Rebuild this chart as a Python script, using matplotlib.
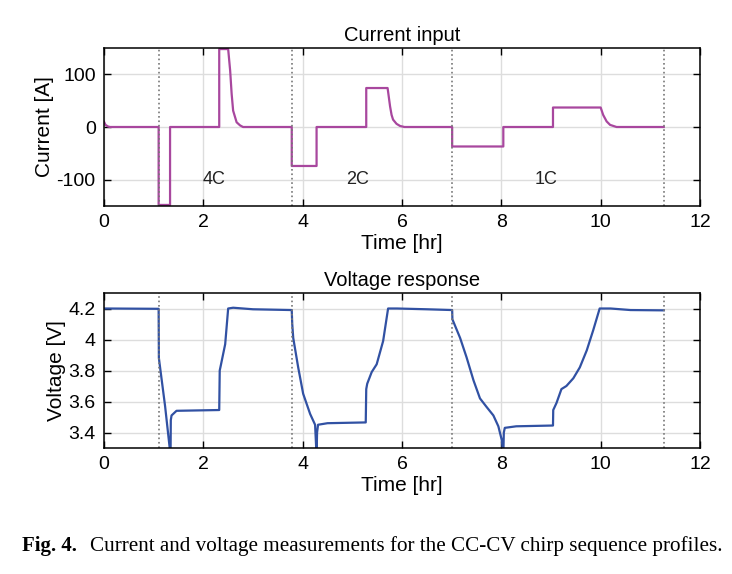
#!/usr/bin/env python
import numpy as np
import matplotlib
matplotlib.use('Agg')
from matplotlib import pyplot as plt

plt.rcParams['font.family'] = ['Liberation Sans', 'DejaVu Sans']

# current profile breakpoints [hr], [A]
t_cur = [0, 0.03, 0.08, 0.12, 1.10, 1.10, 1.33, 1.33, 2.32, 2.32, 2.50, 2.54, 2.57,
         2.60, 2.67, 2.74, 2.80, 3.78, 3.78, 4.28, 4.28, 5.28, 5.28, 5.71, 5.76,
         5.79, 5.82, 5.89, 5.96, 6.05, 7.01, 7.01, 8.04, 8.04, 9.04, 9.04, 10.0,
         10.05, 10.12, 10.19, 10.32, 11.27]
i_cur = [10, 4, 1, 0, 0, -148, -148, 0, 0, 148, 148, 107, 63,
         31, 9, 3, 0, 0, -74, -74, 0, 0, 74, 74, 39,
         23, 14, 6, 2, 0, 0, -37, -37, 0, 0, 37, 37,
         23, 10.6, 4, 0, 0]

# voltage response breakpoints [hr], [V]
t_volt = [0, 0.05, 1.10, 1.105, 1.23, 1.34, 1.345, 1.36, 1.46, 2.32, 2.33, 2.35,
          2.44, 2.50, 2.60, 3.00, 3.78, 3.79, 3.81, 3.91, 4.01, 4.15, 4.25, 4.28,
          4.29, 4.31, 4.50, 5.27, 5.28, 5.30, 5.39, 5.49, 5.62, 5.72, 5.90, 6.50,
          7.01, 7.015, 7.17, 7.30, 7.44, 7.57, 7.70, 7.84, 7.94, 8.01, 8.04, 8.05,
          8.07, 8.30, 9.04, 9.045, 9.11, 9.21, 9.31, 9.45, 9.58, 9.72, 9.85, 9.98,
          10.20, 10.60, 11.27]
v_volt = [4.2, 4.2, 4.198, 3.88, 3.57, 3.25, 3.48, 3.51, 3.54, 3.545, 3.80, 3.83,
          3.97, 4.20, 4.205, 4.195, 4.19, 4.10, 4.01, 3.82, 3.65, 3.52, 3.45, 3.25,
          3.40, 3.45, 3.46, 3.465, 3.68, 3.715, 3.79, 3.84, 3.99, 4.20, 4.20, 4.195,
          4.19, 4.13, 4.01, 3.885, 3.736, 3.62, 3.566, 3.51, 3.44, 3.35, 3.25, 3.40,
          3.43, 3.44, 3.445, 3.545, 3.59, 3.68, 3.70, 3.75, 3.82, 3.93, 4.06, 4.20,
          4.20, 4.19, 4.188]

# cycle boundaries [hr]
t_events = [1.10, 3.78, 7.01, 11.27]
rate_labels = ['4C', '2C', '1C']
rate_label_x = [2.22, 5.1, 8.91]

xticks = [0, 2, 4, 6, 8, 10, 12]
cur_ticks = [-100, 0, 100]
cur_ticklabels = ['-100', '0', '100']
volt_ticks = [3.4, 3.6, 3.8, 4.0, 4.2]
volt_ticklabels = ['3.4', '3.6', '3.8', '4', '4.2']


def style_axes(ax):
    ax.grid(True, color='#dddddd', lw=1.0)
    ax.set_axisbelow(True)
    ax.tick_params(direction='in', top=True, right=True, labelsize=14,
                   length=5, width=1.0, pad=6)
    for sp in ax.spines.values():
        sp.set_linewidth(1.1)
    ax.set_xlim(0, 12)
    ax.set_xticks(xticks)
    ax.set_xlabel('Time [hr]', fontsize=15, labelpad=2)


W, H = 732, 574
fig = plt.figure(figsize=(W / 100, H / 100), dpi=100)
ax1 = fig.add_axes([104 / W, 1 - 206 / H, 596 / W, 158 / H])
ax2 = fig.add_axes([104 / W, 1 - 448 / H, 596 / W, 155 / H])

# current input
style_axes(ax1)
ax1.plot(t_cur, i_cur, color='#a8479e', lw=1.6)
ax1.set_ylim(-150, 150)
ax1.set_yticks(cur_ticks)
ax1.set_yticklabels(cur_ticklabels)
ax1.set_ylabel('Current [A]', fontsize=15, labelpad=2)
ax1.set_title('Current input', fontsize=14.5, pad=5)
for lab, x in zip(rate_labels, rate_label_x):
    ax1.text(x, -100, lab, fontsize=13, ha='center', va='center', color='#222222')

# voltage response
style_axes(ax2)
ax2.plot(t_volt, v_volt, color='#3151a3', lw=1.6)
ax2.set_ylim(3.3, 4.3)
ax2.set_yticks(volt_ticks)
ax2.set_yticklabels(volt_ticklabels)
ax2.set_ylabel('Voltage [V]', fontsize=15, labelpad=2)
ax2.set_title('Voltage response', fontsize=14.5, pad=5)

for ax in (ax1, ax2):
    for te in t_events:
        ax.axvline(te, color='#777777', ls=':', lw=1.2)

# caption
fig.text(22 / W, 1 - 546 / H, 'Fig. 4.', ha='left', va='center', fontsize=15,
         family='Liberation Serif', weight='bold')
fig.text(90 / W, 1 - 546 / H,
         'Current and voltage measurements for the CC-CV chirp sequence profiles.',
         ha='left', va='center', fontsize=15.2, family='Liberation Serif')

fig.savefig('out.png', dpi=100)
